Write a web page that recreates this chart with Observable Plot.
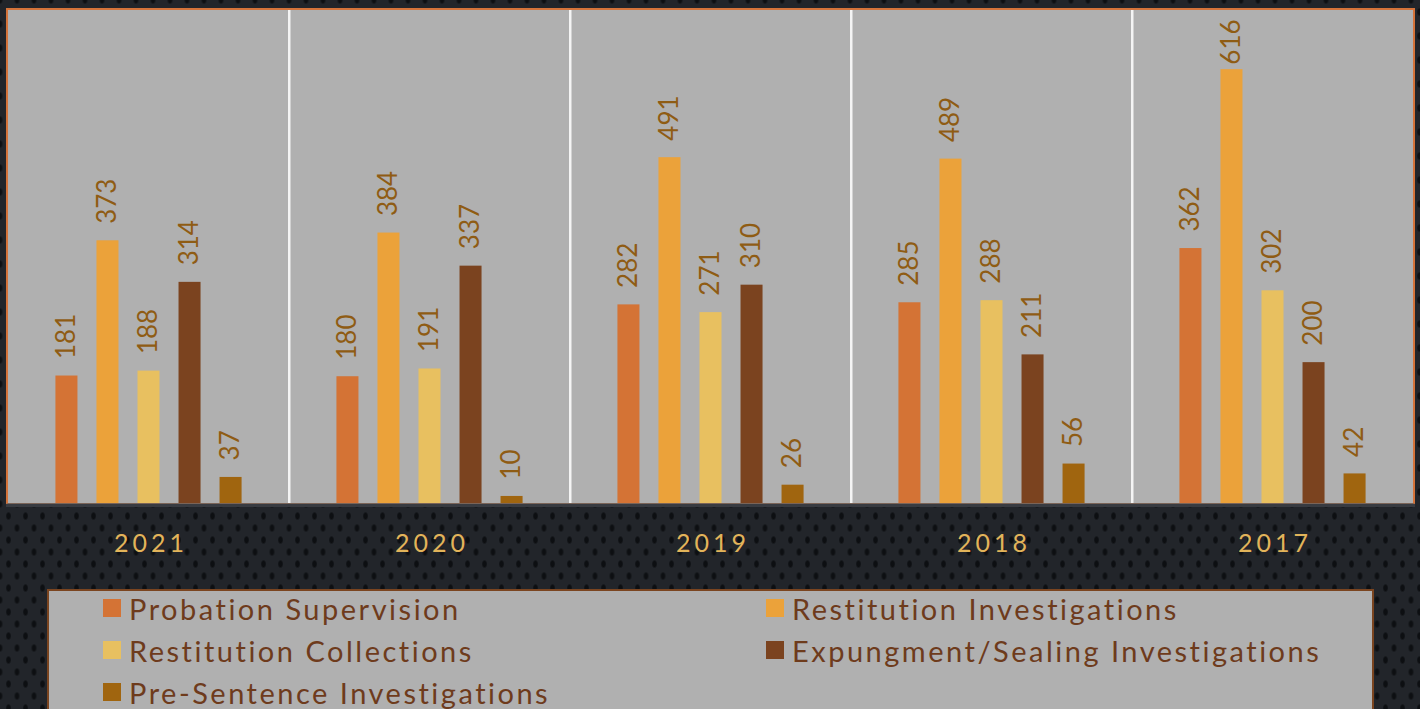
<!DOCTYPE html>
<html>
<head>
<meta charset="utf-8">
<script src="https://cdn.jsdelivr.net/npm/d3@7"></script>
<script src="https://cdn.jsdelivr.net/npm/@observablehq/plot@0.6"></script>
<style>
  html, body { margin: 0; padding: 0; }
  body {
    width: 1420px; height: 709px; overflow: hidden; position: relative;
    background-color: #22252a;
    background-image:
      radial-gradient(ellipse 3px 4.5px at center, #0d0f12 55%, transparent 100%),
      radial-gradient(ellipse 3px 4.5px at center, #0d0f12 55%, transparent 100%);
    background-size: 17px 24px, 17px 24px;
    background-position: 0 0, 8.5px 12px;
    font-family: Lato, "Open Sans", sans-serif;
  }
  #panel {
    position: absolute; box-sizing: border-box;
    left: 6px; top: 8px; width: 1409px; height: 496px;
    background: #b0b0b0;
    border: 2px solid #d4733a; border-bottom: 1px solid #7a6458;
    box-shadow: 0 3px 0 #383b41;
  }
  #chart { position: absolute; left: 0; top: 0; }
  #chart svg { background: transparent; overflow: visible; }
  #legend {
    position: absolute; box-sizing: border-box;
    left: 47px; top: 589px; width: 1327px; height: 140px;
    background: #b0b0b0; border: 2px solid #7b4520;
  }
  .item { position: absolute; display: flex; align-items: center; height: 40px;
          font-size: 29px; letter-spacing: 2.5px; color: #6e3b1c; white-space: nowrap; }
  .sw { width: 18px; height: 18px; margin-right: 8px; flex: none; }
</style>
</head>
<body>
<div id="panel"></div>
<div id="chart"></div>
<div id="legend"></div>
<script>
const years = ["2021", "2020", "2019", "2018", "2017"];
const series = [
  "Probation Supervision",
  "Restitution Investigations",
  "Restitution Collections",
  "Expungment/Sealing Investigations",
  "Pre-Sentence Investigations"
];
const colors = ["#d47335", "#eba23a", "#e8c060", "#7b431f", "#a0650f"];
const probation   = [181, 180, 282, 285, 362];
const restInv     = [373, 384, 491, 489, 616];
const restColl    = [188, 191, 271, 288, 302];
const expungement = [314, 337, 310, 211, 200];
const preSentence = [37, 10, 26, 56, 42];
// labels are kept inside the plot area (as in the original), so a very tall bar's label sits lower
const labelCeiling = 599;

const valuesBySeries = [probation, restInv, restColl, expungement, preSentence];
const data = [];
years.forEach((y, i) => {
  series.forEach((s, j) => data.push({year: y, series: s, value: valuesBySeries[j][i]}));
});

const plot = Plot.plot({
  width: 1420,
  height: 580,
  marginLeft: 8,
  marginRight: 7,
  marginTop: 10,
  marginBottom: 77,
  style: {background: "transparent", fontFamily: "Lato, 'Open Sans', sans-serif"},
  fx: {domain: years, padding: 0, axis: null},
  x: {domain: series, paddingInner: 0.4634, paddingOuter: 1.156, round: false, axis: null},
  y: {domain: [0, 700], axis: null},
  color: {domain: series, range: colors},
  marks: [
    Plot.barY(years.slice(1), {
      fx: d => d, y1: 0, y2: 700,
      insetLeft: -1, insetRight: 279.5, fill: "#f4f4f4"
    }),
    Plot.barY(data, {fx: "year", x: "series", y: "value", fill: "series"}),
    Plot.text(data, {
      fx: "year", x: "series", y: d => Math.min(d.value, labelCeiling), text: d => String(d.value),
      rotate: -90, textAnchor: "start", dy: -17, fill: "#8f5c14", fontSize: 26
    }),
    Plot.text(years, {
      fx: d => d, text: d => d, frameAnchor: "bottom", dy: 48,
      fill: "#e2b45a", fontSize: 25
    })
  ]
});
d3.select(plot).selectAll("text")
  .filter(function () { return years.includes(this.textContent); })
  .attr("letter-spacing", "4px")
  .attr("dx", "2px");
document.getElementById("chart").appendChild(plot);

const legend = document.getElementById("legend");
const pos = [[54, -3], [717, -3], [54, 39], [717, 39], [54, 81]];
series.forEach((s, i) => {
  const it = document.createElement("div");
  it.className = "item";
  it.style.left = pos[i][0] + "px";
  it.style.top = pos[i][1] + "px";
  const sw = document.createElement("span");
  sw.className = "sw";
  sw.style.background = colors[i];
  const t = document.createElement("span");
  t.textContent = s;
  it.appendChild(sw); it.appendChild(t);
  legend.appendChild(it);
});
</script>
</body>
</html>
